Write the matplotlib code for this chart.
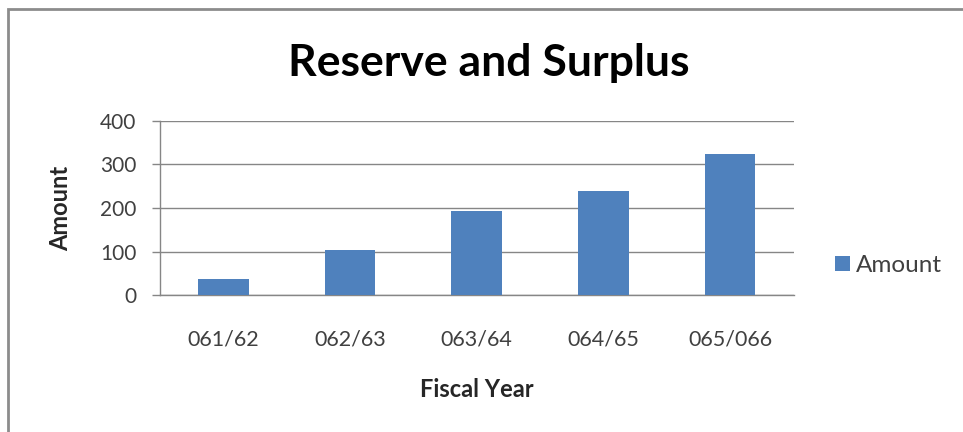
import matplotlib
matplotlib.use("Agg")
import matplotlib.pyplot as plt
from matplotlib.patches import Rectangle

BAR_BLUE = '#4F81BD'
GRID_GRAY = '#868686'
TEXT_GRAY = '#404040'

years = ['061/62', '062/63', '063/64', '064/65', '065/066']
amounts = [38, 103, 193, 239, 325]
y_ticks = [0, 100, 200, 300, 400]

plt.rcParams['font.family'] = ['Lato', 'DejaVu Sans']

fig = plt.figure(figsize=(9.63, 4.32), dpi=100)
ax = fig.add_axes([0.166, 0.317, 0.658, 0.403])

ax.bar(years, amounts, width=0.4, color=BAR_BLUE, label='Amount', zorder=3)

ax.set_ylim(0, 400)
ax.set_xlim(-0.5, len(years) - 0.5)
ax.set_yticks(y_ticks)
ax.yaxis.grid(True, color=GRID_GRAY, linewidth=1.0, zorder=0)
ax.set_axisbelow(True)

for side in ('top', 'right'):
    ax.spines[side].set_visible(False)
for side in ('left', 'bottom'):
    ax.spines[side].set_color(GRID_GRAY)
    ax.spines[side].set_linewidth(1.0)

ax.tick_params(axis='y', length=6, width=1, color=GRID_GRAY, labelsize=15,
               labelcolor=TEXT_GRAY, pad=11)
ax.tick_params(axis='x', length=0, labelsize=15.5, labelcolor=TEXT_GRAY, pad=25)

ax.set_xlabel('Fiscal Year', fontsize=17, fontweight='bold', color='#262626', labelpad=20)
ax.set_ylabel('Amount', fontsize=17, fontweight='bold', color='#262626', labelpad=20)

fig.text(0.508, 0.855, 'Reserve and Surplus', ha='center', va='center',
         fontsize=32, fontweight='bold', color='black')

ax.legend(loc='center left', bbox_to_anchor=(1.035, 0.17), frameon=False,
          fontsize=17.5, handlelength=0.6, handleheight=0.6, handletextpad=0.25,
          labelcolor=TEXT_GRAY, borderaxespad=0.4)

# outer chart frame, cut off at the right and bottom edges
fig.add_artist(Rectangle((8 / 963, -0.1), 1.1, 0.1 + (1 - 9 / 432), transform=fig.transFigure,
                         fill=False, edgecolor='#8c8c8c', linewidth=2.0))

fig.savefig('out.png', dpi=100)
